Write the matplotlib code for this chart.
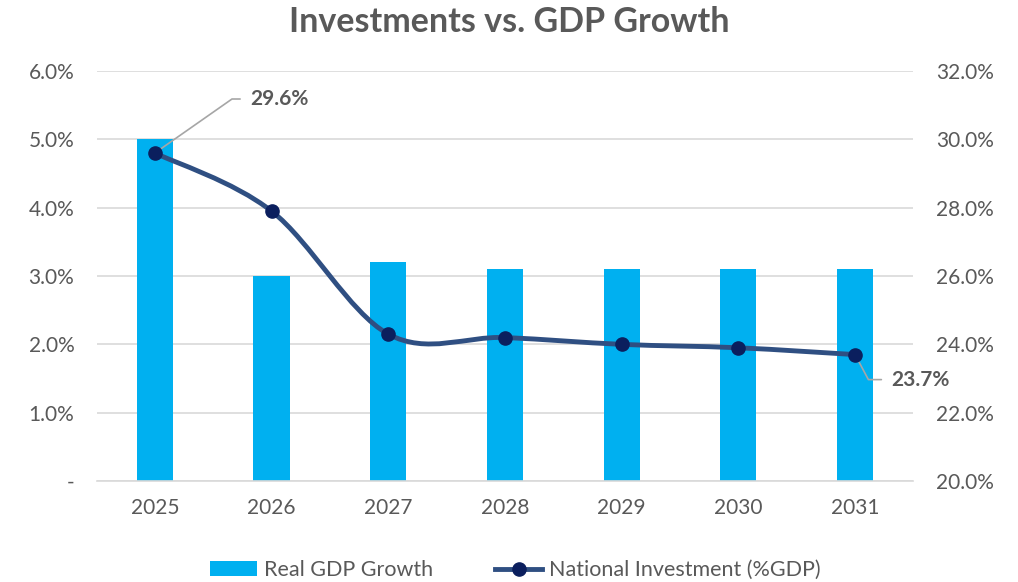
import numpy as np
import matplotlib.pyplot as plt
from matplotlib.path import Path
from matplotlib.patches import PathPatch
from matplotlib.lines import Line2D
from matplotlib.patches import Patch
from matplotlib.ticker import FuncFormatter

plt.rcParams['font.family'] = ['Lato', 'DejaVu Sans']

years = ["2025", "2026", "2027", "2028", "2029", "2030", "2031"]
gdp_growth = [5.0, 3.0, 3.2, 3.1, 3.1, 3.1, 3.1]
investment = [29.6, 27.9, 24.3, 24.2, 24.0, 23.9, 23.7]

bar_color = "#00B0F0"
line_color = "#2F4F82"
marker_color = "#0B1F5E"
text_color = "#595959"
grid_color = "#D9D9D9"

fig = plt.figure(figsize=(10.18, 5.82), dpi=100)
ax = fig.add_axes([0.0948, 0.1735, 0.8025, 0.7045])
ax2 = ax.twinx()

x = np.arange(len(years))
ax.bar(x, gdp_growth, width=0.31, color=bar_color, zorder=2)
ax.set_xlim(-0.5, len(years) - 0.5)
ax.set_ylim(0, 6)
ax.set_yticks(np.arange(0, 6.01, 1))
ax.yaxis.set_major_formatter(FuncFormatter(lambda v, p: "-" if v == 0 else f"{v:.1f}%"))
ax.set_xticks(x)
ax.set_xticklabels(years)
ax.grid(axis="y", color=grid_color, linewidth=1.2, zorder=0)
ax.set_axisbelow(True)

ax2.set_ylim(20, 32)
ax2.set_yticks(np.arange(20, 32.01, 2))
ax2.yaxis.set_major_formatter(FuncFormatter(lambda v, p: f"{v:.1f}%"))

for a in (ax, ax2):
    for s in a.spines.values():
        s.set_visible(False)
    a.tick_params(length=0, labelsize=15, colors=text_color)
ax.spines["bottom"].set_visible(True)
ax.spines["bottom"].set_color(grid_color)
ax.spines["bottom"].set_linewidth(1.2)
ax.tick_params(axis="y", pad=16)
ax.tick_params(axis="x", pad=12)
ax2.tick_params(axis="y", pad=16)

# smoothed line (Excel-style Catmull-Rom Bezier segments)
pts = np.column_stack([x, investment]).astype(float)
verts = [tuple(pts[0])]
codes = [Path.MOVETO]
n = len(pts)
for i in range(n - 1):
    p0 = pts[max(i - 1, 0)]
    p1 = pts[i]
    p2 = pts[i + 1]
    p3 = pts[min(i + 2, n - 1)]
    c1 = p1 + (p2 - p0) / 6
    c2 = p2 - (p3 - p1) / 6
    verts += [tuple(c1), tuple(c2), tuple(p2)]
    codes += [Path.CURVE4] * 3
ax2.add_patch(PathPatch(Path(verts, codes), facecolor="none", edgecolor=line_color,
                        linewidth=3.5, capstyle="round", zorder=3))
ax2.plot(x, investment, linestyle="none", marker="o", markersize=9.5,
         color=marker_color, zorder=4)

# data labels with leader lines
ax2.annotate(f"{investment[0]:.1f}%", xy=(x[0], investment[0]), xytext=(95, 54),
             textcoords="offset pixels", fontsize=15, fontweight="bold",
             color=text_color, va="center", ha="left",
             arrowprops=dict(arrowstyle="-", color="#A6A6A6", lw=1.2,
                             connectionstyle="angle,angleA=0,angleB=35,rad=0",
                             shrinkA=5, shrinkB=0))
ax2.annotate(f"{investment[-1]:.1f}%", xy=(x[-1], investment[-1]), xytext=(36, -25),
             textcoords="offset pixels", fontsize=15, fontweight="bold",
             color=text_color, va="center", ha="left",
             arrowprops=dict(arrowstyle="-", color="#A6A6A6", lw=1.2,
                             connectionstyle="angle,angleA=0,angleB=-62,rad=0",
                             shrinkA=5, shrinkB=0))

fig.suptitle("Investments vs. GDP Growth", y=0.99, fontsize=24.5, fontweight="bold",
             color=text_color)

handles = [Patch(facecolor=bar_color, label="Real GDP Growth"),
           Line2D([0], [0], color=line_color, lw=3.5, marker="o", markersize=9.5,
                  markerfacecolor=marker_color, markeredgecolor=marker_color,
                  label="National Investment (%GDP)")]
leg = fig.legend(handles=handles, loc="lower center", bbox_to_anchor=(0.506, -0.03),
                 ncol=2, frameon=False, fontsize=15.5, handlelength=2.2,
                 handletextpad=0.3, columnspacing=2.9)
for t in leg.get_texts():
    t.set_color(text_color)

fig.savefig("out.png", dpi=100)
